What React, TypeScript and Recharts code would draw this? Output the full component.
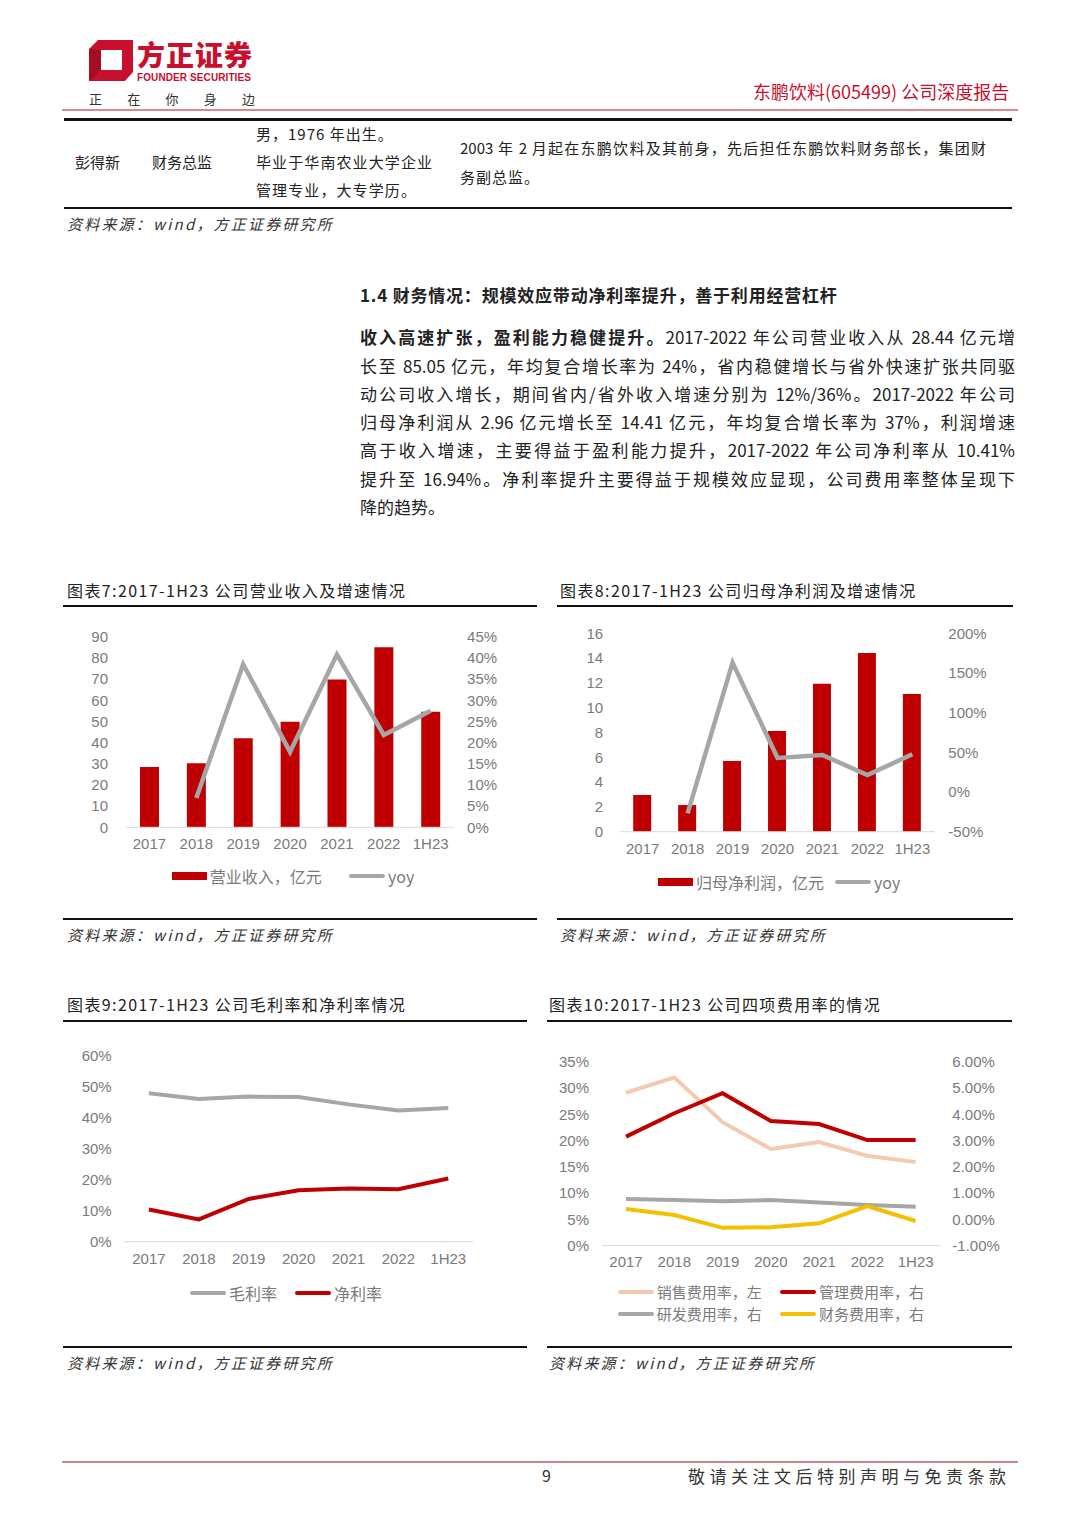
import React from 'react';
import { ComposedChart, Bar, Line, XAxis, YAxis, Legend } from 'recharts';

// ---------- data ----------
const years = ['2017', '2018', '2019', '2020', '2021', '2022', '1H23'];
const revenue = [28.44, 30.2, 42.0, 49.8, 69.8, 85.05, 54.6];
const revenueYoy = [null, 6.9, 38.5, 17.8, 40.8, 21.8, 27.5];
const profit = [2.96, 2.15, 5.7, 8.12, 11.94, 14.41, 11.1];
const profitYoy = [null, -26.8, 163, 43, 46.6, 21.4, 47.5];
const grossMargin = [47.9, 46.0, 46.8, 46.7, 44.3, 42.3, 43.1];
const netMargin = [10.41, 7.2, 13.8, 16.6, 17.2, 16.94, 20.4];
const salesRate = [29.1, 32.0, 23.5, 18.4, 19.7, 17.1, 15.9];
const adminRate = [3.15, 4.04, 4.8, 3.74, 3.63, 3.02, 3.02];
const rdRate = [0.78, 0.74, 0.69, 0.74, 0.64, 0.55, 0.48];
const financeRate = [0.4, 0.17, -0.32, -0.3, -0.15, 0.51, -0.06];

const ticks7L = [0, 10, 20, 30, 40, 50, 60, 70, 80, 90];
const ticks7R = [0, 5, 10, 15, 20, 25, 30, 35, 40, 45];
const ticks8L = [0, 2, 4, 6, 8, 10, 12, 14, 16];
const ticks8R = [-50, 0, 50, 100, 150, 200];
const ticks9L = [0, 10, 20, 30, 40, 50, 60];
const ticks10L = [0, 5, 10, 15, 20, 25, 30, 35];
const ticks10R = [-1, 0, 1, 2, 3, 4, 5, 6];

const data7 = years.map((y, i) => ({ year: y, revenue: revenue[i], yoy: revenueYoy[i] }));
const data8 = years.map((y, i) => ({ year: y, profit: profit[i], yoy: profitYoy[i] }));
const data9 = years.map((y, i) => ({ year: y, gross: grossMargin[i], net: netMargin[i] }));
const data10 = years.map((y, i) => ({
  year: y,
  sales: salesRate[i],
  admin: adminRate[i],
  rd: rdRate[i],
  fin: financeRate[i],
}));

// ---------- styles ----------
const RED = '#c00000';
const GRAY = '#a6a6a6';
const PEACH = '#f4c9b0';
const GOLD = '#f2c000';
const BRAND = '#c8102e';
const CJK = "'Noto Sans CJK SC', 'Noto Sans', sans-serif";
const TICK = { fill: '#7a7a7a', fontSize: 15, fontFamily: "'Liberation Sans', 'Noto Sans CJK SC', sans-serif" };
const pct = (v: number) => `${v}%`;
const pct2 = (v: number) => `${v.toFixed(2)}%`;

function T({ x, y, size = 15, children, style = {} }: any) {
  return (
    <div
      style={{
        position: 'absolute',
        left: x,
        top: y - size * 0.55,
        fontSize: size,
        lineHeight: `${size}px`,
        whiteSpace: 'nowrap',
        color: '#222',
        ...style,
      }}
    >
      {children}
    </div>
  );
}

function HLine({ x1, x2, y, h = 2, color = '#111' }: any) {
  return <div style={{ position: 'absolute', left: x1, top: y - h / 2, width: x2 - x1, height: h, background: color }} />;
}

function JLine({ x, y, w, size = 17, children, last = false, style = {} }: any) {
  return (
    <div
      style={{
        position: 'absolute',
        left: x,
        top: y - size * 0.55,
        width: w,
        fontSize: size,
        lineHeight: `${size}px`,
        whiteSpace: 'nowrap',
        textAlign: last ? 'left' : 'justify',
        textAlignLast: last ? 'left' : 'justify',
        color: '#222',
        ...style,
      }}
    >
      {children}
    </div>
  );
}

const makeLegend = (pos: Record<string, { x: number; y: number }>, size = 16) => (props: any) => {
  const payload = props.payload || [];
  return (
    <div style={{ position: 'relative', width: '100%', height: '100%' }}>
      {payload.map((p: any, i: number) => {
        const at = pos[String(p.dataKey)] || { x: 0, y: 0 };
        return (
          <div
            key={i}
            style={{
              position: 'absolute',
              left: at.x,
              top: at.y - 8,
              height: 16,
              display: 'flex',
              alignItems: 'center',
              whiteSpace: 'nowrap',
            }}
          >
            {p.type === 'rect' ? (
              <span style={{ display: 'inline-block', width: 35, height: 8, background: p.color }} />
            ) : (
              <span style={{ display: 'inline-block', width: 36, height: 4, background: p.color, borderRadius: 2 }} />
            )}
            <span style={{ marginLeft: 3, fontSize: size, lineHeight: `${size}px`, color: '#7a7a7a', fontFamily: CJK }}>
              {p.value}
            </span>
          </div>
        );
      })}
    </div>
  );
};

function Title({ x, y, children }: any) {
  return (
    <T x={x} y={y} size={16} style={{ letterSpacing: 1.4, color: '#222' }}>
      {children}
    </T>
  );
}

function Source({ x, y }: any) {
  return (
    <T x={x} y={y} size={15} style={{ fontStyle: 'italic', letterSpacing: 2.2, color: '#333' }}>
      资料来源：wind，方正证券研究所
    </T>
  );
}

export default function App() {
  return (
    <div
      style={{
        position: 'absolute',
        left: 0,
        top: 0,
        width: 1080,
        height: 1527,
        background: '#fff',
        overflow: 'hidden',
        fontFamily: CJK,
      }}
    >
      {/* ---------- header ---------- */}
      <svg style={{ position: 'absolute', left: 86, top: 38 }} width={50} height={46} viewBox="0 0 50 46">
        <path d="M12 2 H47 V34 L39 43 H3 V11 Z M15 12 V32 H36 V12 Z" fillRule="evenodd" fill={BRAND} />
        <path d="M3 11 L15 12 L15 32 L3 43 Z" fill="#a50d22" />
      </svg>
      <T x={137} y={55} size={28} style={{ color: BRAND, fontWeight: 900, letterSpacing: 1 }}>
        方正证券
      </T>
      <T
        x={137}
        y={78}
        size={10}
        style={{ color: BRAND, fontWeight: 700, fontFamily: "'Liberation Sans', sans-serif", letterSpacing: 0.1 }}
      >
        FOUNDER SECURITIES
      </T>
      <div
        style={{
          position: 'absolute',
          left: 89,
          top: 92,
          width: 166,
          display: 'flex',
          justifyContent: 'space-between',
          fontSize: 13,
          lineHeight: '13px',
          color: '#333',
        }}
      >
        <span>正</span>
        <span>在</span>
        <span>你</span>
        <span>身</span>
        <span>边</span>
      </div>
      <T x={753} y={92} size={18} style={{ color: BRAND }}>
        东鹏饮料(605499) 公司深度报告
      </T>
      <HLine x1={62} x2={1018} y={110} h={2} color="#d98a90" />
      <HLine x1={64} x2={1012} y={119} h={3} color="#111" />

      {/* ---------- table ---------- */}
      <T x={75} y={162} size={15}>彭得新</T>
      <T x={152} y={162} size={15}>财务总监</T>
      <T x={256} y={134} size={15} style={{ letterSpacing: 1 }}>男，1976 年出生。</T>
      <T x={256} y={162} size={15} style={{ letterSpacing: 1.1 }}>毕业于华南农业大学企业</T>
      <T x={256} y={190} size={15} style={{ letterSpacing: 1.1 }}>管理专业，大专学历。</T>
      <JLine x={460} y={148} w={526} size={15}>
        2003 年 2 月起在东鹏饮料及其前身，先后担任东鹏饮料财务部长，集团财
      </JLine>
      <T x={460} y={177} size={15} style={{ letterSpacing: 1 }}>务副总监。</T>
      <HLine x1={64} x2={1012} y={208} h={2} color="#111" />
      <Source x={67} y={224} />

      {/* ---------- section text ---------- */}
      <T x={360} y={295} size={17} style={{ fontWeight: 700, letterSpacing: 0.8 }}>
        1.4 财务情况：规模效应带动净利率提升，善于利用经营杠杆
      </T>
      <JLine x={360} y={337} w={655}>
        <b>收入高速扩张，盈利能力稳健提升。</b>2017-2022 年公司营业收入从 28.44 亿元增
      </JLine>
      <JLine x={360} y={366} w={655}>
        长至 85.05 亿元，年均复合增长率为 24%，省内稳健增长与省外快速扩张共同驱
      </JLine>
      <JLine x={360} y={394} w={655}>
        动公司收入增长，期间省内/省外收入增速分别为 12%/36%。2017-2022 年公司
      </JLine>
      <JLine x={360} y={422} w={655}>
        归母净利润从 2.96 亿元增长至 14.41 亿元，年均复合增长率为 37%，利润增速
      </JLine>
      <JLine x={360} y={450} w={655}>
        高于收入增速，主要得益于盈利能力提升，2017-2022 年公司净利率从 10.41%
      </JLine>
      <JLine x={360} y={479} w={655}>
        提升至 16.94%。净利率提升主要得益于规模效应显现，公司费用率整体呈现下
      </JLine>
      <JLine x={360} y={507} w={655} last>
        降的趋势。
      </JLine>

      {/* ---------- chart titles / rules ---------- */}
      <Title x={67} y={591}>图表7:2017-1H23 公司营业收入及增速情况</Title>
      <HLine x1={63} x2={537} y={606} h={2} />
      <Title x={560} y={591}>图表8:2017-1H23 公司归母净利润及增速情况</Title>
      <HLine x1={557} x2={1013} y={606} h={2} />
      <HLine x1={63} x2={537} y={919} h={2} />
      <HLine x1={557} x2={1013} y={919} h={2} />
      <Source x={67} y={935} />
      <Source x={560} y={935} />

      <Title x={67} y={1005}>图表9:2017-1H23 公司毛利率和净利率情况</Title>
      <HLine x1={63} x2={527} y={1021} h={2} />
      <Title x={549} y={1005}>图表10:2017-1H23 公司四项费用率的情况</Title>
      <HLine x1={547} x2={1012} y={1021} h={2} />
      <HLine x1={63} x2={527} y={1347} h={2} />
      <HLine x1={547} x2={1012} y={1347} h={2} />
      <Source x={67} y={1363} />
      <Source x={549} y={1363} />

      {/* ---------- chart 7 ---------- */}
      <div style={{ position: 'absolute', left: 60, top: 620 }}>
        <ComposedChart width={480} height={280} data={data7} margin={{ top: 16.7, right: 25.9, left: 0, bottom: 42.7 }}>
          <XAxis
            dataKey="year"
            interval={0}
            tickLine={false}
            tickSize={0}
            tickMargin={11}
            height={30}
            axisLine={{ stroke: '#d9d9d9' }}
            tick={TICK}
          />
          <YAxis
            yAxisId="left"
            width={66}
            domain={[0, 90]}
            ticks={ticks7L}
            interval={0}
            axisLine={false}
            tickLine={false}
            tickSize={0}
            tickMargin={18}
            tick={TICK}
          />
          <YAxis
            yAxisId="right"
            orientation="right"
            width={60}
            domain={[0, 45]}
            ticks={ticks7R}
            interval={0}
            axisLine={false}
            tickLine={false}
            tickSize={0}
            tickMargin={13}
            tick={{ ...TICK, textAnchor: 'start' }}
            tickFormatter={pct}
          />
          <Legend
            layout="horizontal"
            verticalAlign="middle"
            align="center"
            wrapperStyle={{ left: 0, top: 0, width: 480, height: 280, pointerEvents: 'none' }}
            content={makeLegend({
              revenue: { x: 111.7, y: 256 },
              yoy: { x: 289, y: 256 },
            })}
          />
          <Bar yAxisId="left" dataKey="revenue" name="营业收入，亿元" fill={RED} barSize={19} legendType="rect" isAnimationActive={false} />
          <Line
            yAxisId="right"
            dataKey="yoy"
            name="yoy"
            stroke={GRAY}
            strokeWidth={4.5}
            dot={false}
            type="linear"
            legendType="line"
            isAnimationActive={false}
          />
        </ComposedChart>
      </div>

      {/* ---------- chart 8 ---------- */}
      <div style={{ position: 'absolute', left: 553, top: 615 }}>
        <ComposedChart width={470} height={285} data={data8} margin={{ top: 18.3, right: 28.2, left: 0, bottom: 38.3 }}>
          <XAxis
            dataKey="year"
            interval={0}
            tickLine={false}
            tickSize={0}
            tickMargin={11.5}
            height={30}
            axisLine={{ stroke: '#d9d9d9' }}
            tick={TICK}
          />
          <YAxis
            yAxisId="left"
            width={67.2}
            domain={[0, 16]}
            ticks={ticks8L}
            interval={0}
            axisLine={false}
            tickLine={false}
            tickSize={0}
            tickMargin={17}
            tick={TICK}
          />
          <YAxis
            yAxisId="right"
            orientation="right"
            width={60}
            domain={[-50, 200]}
            ticks={ticks8R}
            interval={0}
            axisLine={false}
            tickLine={false}
            tickSize={0}
            tickMargin={13.5}
            tick={{ ...TICK, textAnchor: 'start' }}
            tickFormatter={pct}
          />
          <Legend
            layout="horizontal"
            verticalAlign="middle"
            align="center"
            wrapperStyle={{ left: 0, top: 0, width: 470, height: 285, pointerEvents: 'none' }}
            content={makeLegend({
              profit: { x: 105, y: 267 },
              yoy: { x: 282, y: 267 },
            })}
          />
          <Bar yAxisId="left" dataKey="profit" name="归母净利润，亿元" fill={RED} barSize={18} legendType="rect" isAnimationActive={false} />
          <Line
            yAxisId="right"
            dataKey="yoy"
            name="yoy"
            stroke={GRAY}
            strokeWidth={4.5}
            dot={false}
            type="linear"
            legendType="line"
            isAnimationActive={false}
          />
        </ComposedChart>
      </div>

      {/* ---------- chart 9 ---------- */}
      <div style={{ position: 'absolute', left: 60, top: 1035 }}>
        <ComposedChart width={470} height={285} data={data9} margin={{ top: 20.7, right: 56.8, left: 0, bottom: 48.3 }}>
          <XAxis
            dataKey="year"
            interval={0}
            tickLine={false}
            tickSize={0}
            tickMargin={11.6}
            height={30}
            padding={{ left: 24.95, right: 24.95 }}
            axisLine={{ stroke: '#d9d9d9' }}
            tick={TICK}
          />
          <YAxis
            width={64}
            domain={[0, 60]}
            ticks={ticks9L}
            interval={0}
            axisLine={false}
            tickLine={false}
            tickSize={0}
            tickMargin={12.3}
            tick={TICK}
            tickFormatter={pct}
          />
          <Legend
            layout="horizontal"
            verticalAlign="middle"
            align="center"
            wrapperStyle={{ left: 0, top: 0, width: 470, height: 285, pointerEvents: 'none' }}
            content={makeLegend({
              gross: { x: 130, y: 258 },
              net: { x: 235, y: 258 },
            })}
          />
          <Line dataKey="gross" name="毛利率" stroke={GRAY} strokeWidth={4} dot={false} type="linear" legendType="line" isAnimationActive={false} />
          <Line dataKey="net" name="净利率" stroke={RED} strokeWidth={4} dot={false} type="linear" legendType="line" isAnimationActive={false} />
        </ComposedChart>
      </div>

      {/* ---------- chart 10 ---------- */}
      <div style={{ position: 'absolute', left: 545, top: 1040 }}>
        <ComposedChart width={470} height={290} data={data10} margin={{ top: 21.7, right: 5.2, left: 0, bottom: 54.3 }}>
          <XAxis
            dataKey="year"
            interval={0}
            tickLine={false}
            tickSize={0}
            tickMargin={11}
            height={30}
            padding={{ left: 24.14, right: 24.14 }}
            axisLine={{ stroke: '#d9d9d9' }}
            tick={TICK}
          />
          <YAxis
            yAxisId="left"
            width={56.9}
            domain={[0, 35]}
            ticks={ticks10L}
            interval={0}
            axisLine={false}
            tickLine={false}
            tickSize={0}
            tickMargin={12.9}
            tick={TICK}
            tickFormatter={pct}
          />
          <YAxis
            yAxisId="right"
            orientation="right"
            width={70}
            domain={[-1, 6]}
            ticks={ticks10R}
            interval={0}
            axisLine={false}
            tickLine={false}
            tickSize={0}
            tickMargin={12.5}
            tick={{ ...TICK, textAnchor: 'start' }}
            tickFormatter={pct2}
          />
          <Legend
            layout="horizontal"
            verticalAlign="middle"
            align="center"
            wrapperStyle={{ left: 0, top: 0, width: 470, height: 290, pointerEvents: 'none' }}
            content={makeLegend(
              {
                sales: { x: 72.7, y: 251.5 },
                admin: { x: 235, y: 251.5 },
                rd: { x: 72.7, y: 273.5 },
                fin: { x: 235, y: 273.5 },
              },
              15
            )}
          />
          <Line yAxisId="left" dataKey="sales" name="销售费用率，左" stroke={PEACH} strokeWidth={4} dot={false} type="linear" legendType="line" isAnimationActive={false} />
          <Line yAxisId="right" dataKey="admin" name="管理费用率，右" stroke={RED} strokeWidth={4} dot={false} type="linear" legendType="line" isAnimationActive={false} />
          <Line yAxisId="right" dataKey="rd" name="研发费用率，右" stroke={GRAY} strokeWidth={4} dot={false} type="linear" legendType="line" isAnimationActive={false} />
          <Line yAxisId="right" dataKey="fin" name="财务费用率，右" stroke={GOLD} strokeWidth={4} dot={false} type="linear" legendType="line" isAnimationActive={false} />
        </ComposedChart>
      </div>

      {/* ---------- footer ---------- */}
      <HLine x1={62} x2={1018} y={1462} h={2} color="#c9868c" />
      <T x={542} y={1476} size={16} style={{ color: '#333' }}>9</T>
      <T x={688} y={1476} size={17} style={{ color: '#333', letterSpacing: 4.5 }}>
        敬请关注文后特别声明与免责条款
      </T>
    </div>
  );
}
